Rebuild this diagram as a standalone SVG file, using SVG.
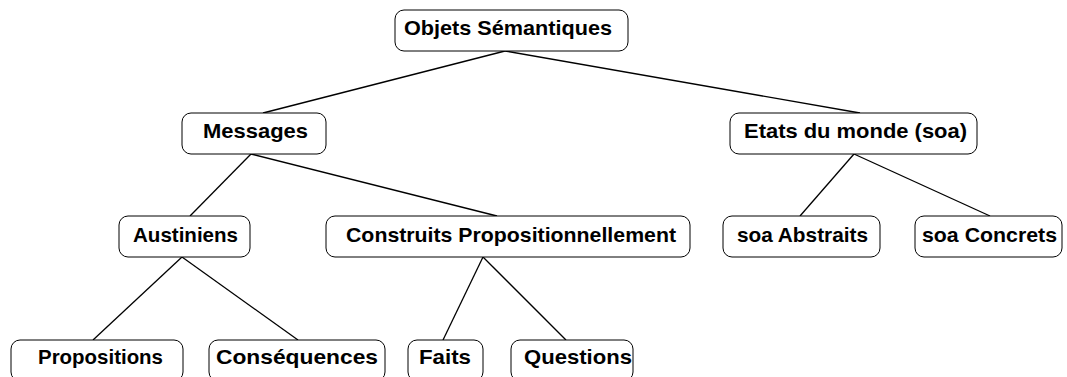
<svg xmlns="http://www.w3.org/2000/svg" width="1067" height="377" viewBox="0 0 1067 377">
<style>
.box{fill:#fff;stroke:#000;stroke-width:1}
.lbl{font-family:"Liberation Sans",Arial,sans-serif;font-weight:bold;font-size:20.5px;fill:#000;text-anchor:start}
.edge{stroke:#000;stroke-width:1.3;fill:none}
</style>
<rect width="1067" height="377" fill="#fff"/>
<g id="connectors">
<line class="edge" x1="505" y1="51" x2="263" y2="113"/>
<line class="edge" x1="505" y1="51" x2="860" y2="113"/>
<line class="edge" x1="251" y1="154" x2="190" y2="216"/>
<line class="edge" x1="251" y1="154" x2="497" y2="216"/>
<line class="edge" x1="854" y1="154" x2="800" y2="216"/>
<line class="edge" x1="854" y1="154" x2="990" y2="216"/>
<line class="edge" x1="182" y1="257" x2="93" y2="340"/>
<line class="edge" x1="182" y1="257" x2="298" y2="340"/>
<line class="edge" x1="483" y1="257" x2="443" y2="340"/>
<line class="edge" x1="483" y1="257" x2="566" y2="340"/>
</g>
<g id="n-objets"><rect class="box" x="395" y="10" width="233" height="41" rx="9"/><text class="lbl" x="404" y="35" textLength="208" lengthAdjust="spacingAndGlyphs">Objets Sémantiques</text></g>
<g id="n-messages"><rect class="box" x="182" y="113" width="144" height="41" rx="9"/><text class="lbl" x="203" y="138" textLength="105" lengthAdjust="spacingAndGlyphs">Messages</text></g>
<g id="n-etats"><rect class="box" x="730" y="113" width="247" height="41" rx="9"/><text class="lbl" x="744" y="138" textLength="223" lengthAdjust="spacingAndGlyphs">Etats du monde (soa)</text></g>
<g id="n-austiniens"><rect class="box" x="119" y="216" width="131" height="41" rx="9"/><text class="lbl" x="133" y="242" textLength="105" lengthAdjust="spacingAndGlyphs">Austiniens</text></g>
<g id="n-construits"><rect class="box" x="326" y="216" width="364" height="41" rx="9"/><text class="lbl" x="346" y="242" textLength="330" lengthAdjust="spacingAndGlyphs">Construits Propositionnellement</text></g>
<g id="n-abstraits"><rect class="box" x="723" y="216" width="157" height="41" rx="9"/><text class="lbl" x="737" y="242" textLength="131" lengthAdjust="spacingAndGlyphs">soa Abstraits</text></g>
<g id="n-concrets"><rect class="box" x="915" y="216" width="147" height="41" rx="9"/><text class="lbl" x="922" y="242" textLength="135" lengthAdjust="spacingAndGlyphs">soa Concrets</text></g>
<g id="n-propositions"><rect class="box" x="11" y="340" width="172" height="41" rx="9"/><text class="lbl" x="38" y="364" textLength="125" lengthAdjust="spacingAndGlyphs">Propositions</text></g>
<g id="n-consequences"><rect class="box" x="209" y="340" width="176" height="41" rx="9"/><text class="lbl" x="216" y="364" textLength="162" lengthAdjust="spacingAndGlyphs">Conséquences</text></g>
<g id="n-faits"><rect class="box" x="408" y="340" width="75" height="41" rx="9"/><text class="lbl" x="419" y="364" textLength="52" lengthAdjust="spacingAndGlyphs">Faits</text></g>
<g id="n-questions"><rect class="box" x="511" y="340" width="122" height="41" rx="9"/><text class="lbl" x="524" y="364" textLength="108" lengthAdjust="spacingAndGlyphs">Questions</text></g>
</svg>
